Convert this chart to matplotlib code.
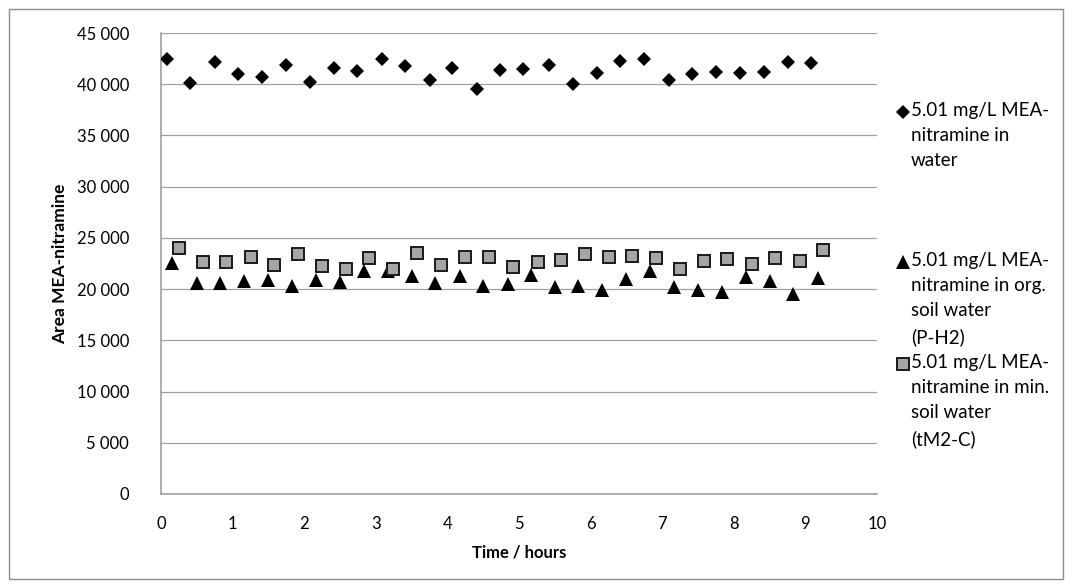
import matplotlib.pyplot as plt
from matplotlib.lines import Line2D
from matplotlib.patches import Rectangle
from matplotlib.ticker import FuncFormatter

plt.rcParams['font.family'] = ['Lato', 'DejaVu Sans']

# water
t_water = [0.08, 0.41, 0.75, 1.08, 1.41, 1.74, 2.08, 2.41, 2.74, 3.08, 3.41, 3.75, 4.07, 4.41,
           4.74, 5.06, 5.42, 5.75, 6.09, 6.41, 6.75, 7.09, 7.42, 7.75, 8.08, 8.42, 8.75, 9.08]
area_water = [42430, 40090, 42140, 40970, 40740, 41850, 40250, 41590, 41320, 42460, 41750, 40380, 41610, 39560,
              41360, 41490, 41910, 40060, 41100, 42300, 42490, 40380, 41000, 41160, 41070, 41230, 42170, 42070]

# org. soil water (P-H2)
t_org = [0.16, 0.50, 0.83, 1.16, 1.49, 1.83, 2.16, 2.50, 2.83, 3.17, 3.50, 3.83, 4.17, 4.50,
         4.84, 5.17, 5.50, 5.83, 6.16, 6.50, 6.83, 7.16, 7.50, 7.83, 8.17, 8.50, 8.83, 9.17]
area_org = [22550, 20600, 20600, 20840, 20920, 20270, 20920, 20660, 21740, 21740, 21310, 20600, 21250, 20270,
            20530, 21380, 20200, 20270, 19910, 21000, 21720, 20200, 19940, 19700, 21180, 20770, 19540, 21100]

# min. soil water (tM2-C)
t_min = [0.25, 0.58, 0.91, 1.25, 1.58, 1.91, 2.25, 2.58, 2.91, 3.24, 3.58, 3.91, 4.25, 4.58,
         4.92, 5.26, 5.58, 5.92, 6.25, 6.58, 6.92, 7.25, 7.58, 7.91, 8.25, 8.58, 8.92, 9.25]
area_min = [24010, 22650, 22600, 23100, 22390, 23400, 22260, 22000, 23040, 21960, 23500, 22350, 23170, 23170,
            22190, 22680, 22810, 23460, 23100, 23250, 23080, 21930, 22700, 22920, 22450, 22990, 22700, 23790]

labels = ['5.01 mg/L MEA-\nnitramine in\nwater',
          '5.01 mg/L MEA-\nnitramine in org.\nsoil water\n(P-H2)',
          '5.01 mg/L MEA-\nnitramine in min.\nsoil water\n(tM2-C)']

fig = plt.figure(figsize=(10.72, 5.88), dpi=100)
ax = fig.add_axes([161 / 1072, 1 - 494 / 588, (877 - 161) / 1072, (494 - 33) / 588])

grid_c = '#a0a0a0'
styles = [
    dict(marker='D', ms=7.5, color='black', mec='black', mew=0),
    dict(marker='^', ms=10, color='black', mec='black', mew=0),
    dict(marker='s', ms=8.5, color='#a6a6a6', mec='#1a1a1a', mew=1.4),
]

ax.plot(t_water, area_water, ls='none', zorder=3, **styles[0])
ax.plot(t_org, area_org, ls='none', zorder=3, **styles[1])
ax.plot(t_min, area_min, ls='none', zorder=3, **styles[2])

ax.set_xlim(0, 10)
ax.set_ylim(0, 45000)
ax.set_xticks(range(0, 11))
ax.set_yticks(range(0, 45001, 5000))
ax.yaxis.set_major_formatter(FuncFormatter(lambda v, p: f'{int(v):,}'.replace(',', ' ')))
ax.grid(axis='y', color=grid_c, lw=0.9)
ax.set_axisbelow(True)
ax.tick_params(length=0, labelsize=12, colors='black')
ax.tick_params(axis='y', pad=23)
ax.tick_params(axis='x', pad=16)
for s in ['top', 'right']:
    ax.spines[s].set_visible(False)
for s in ['left', 'bottom']:
    ax.spines[s].set_color(grid_c)
    ax.spines[s].set_linewidth(1.2)

ax.set_xlabel('Time / hours', fontsize=12, fontweight='bold', labelpad=9)
ax.set_ylabel('Area MEA-nitramine', fontsize=12.5, fontweight='bold', labelpad=6)

# legend, drawn by hand so the marker sits on the first line
leg_y = [112, 262, 364]
for lab, st, y in zip(labels, styles, leg_y):
    fig.add_artist(Line2D([903 / 1072], [1 - y / 588], transform=fig.transFigure, ls='none', **st))
    fig.text(911 / 1072, 1 - (y - 10) / 588, lab, fontsize=13.5, va='top', ha='left', linespacing=1.58)

# chart area border
fig.add_artist(Rectangle((9 / 1072, 9 / 588), 1054 / 1072, 570 / 588, transform=fig.transFigure,
                         fill=False, ec='#8c8c8c', lw=1))

fig.savefig('out.png', dpi=100)
